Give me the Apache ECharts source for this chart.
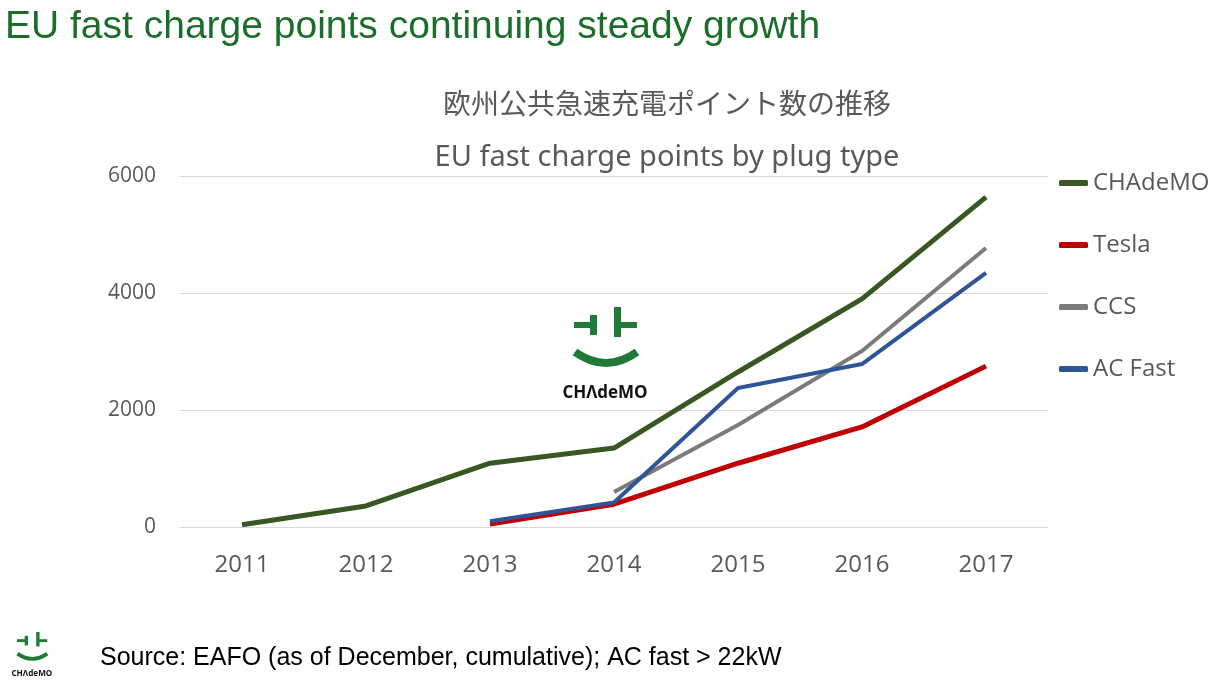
<!DOCTYPE html>
<html>
<head>
<meta charset="utf-8">
<script src="https://cdn.jsdelivr.net/npm/echarts@6/dist/echarts.min.js"></script>
<style>
  html, body { margin: 0; padding: 0; background: #fff; }
  #chart { width: 1227px; height: 686px; }
</style>
</head>
<body>
<div id="chart"></div>
<script>
// 年份（X轴）
var years = ["2011", "2012", "2013", "2014", "2015", "2016", "2017"];
// 各插头类型的累计数量
var chademo = [40, 360, 1090, 1350, 2650, 3900, 5640];
var tesla = [null, null, 50, 390, 1090, 1710, 2750];
var ccs = [null, null, null, 600, 1745, 3010, 4770];
var acFast = [null, null, 100, 420, 2375, 2785, 4345];
var yTicks = [0, 2000, 4000, 6000];

var logoGreen = "#1f7a36";

// CHAdeMO 标志（局部坐标，用 group 缩放）
function logo(x, y, s) {
  return {
    type: "group",
    x: x,
    y: y,
    scaleX: s,
    scaleY: s,
    children: [
      { type: "rect", shape: { x: 0, y: 15, width: 17, height: 6 }, style: { fill: logoGreen } },
      { type: "rect", shape: { x: 16, y: 8, width: 7, height: 20 }, style: { fill: logoGreen } },
      { type: "rect", shape: { x: 40, y: 0, width: 7, height: 30 }, style: { fill: logoGreen } },
      { type: "rect", shape: { x: 46, y: 15, width: 17, height: 6 }, style: { fill: logoGreen } },
      {
        type: "bezierCurve",
        shape: { x1: 1, y1: 45, cpx1: 32, cpy1: 67, x2: 63, y2: 45 },
        style: { stroke: logoGreen, lineWidth: 8, fill: null },
      },
      {
        type: "text",
        x: 31,
        y: 86,
        style: {
          text: "CHΛdeMO",
          fill: "#111",
          font: "bold 17px 'Open Sans', sans-serif",
          align: "center",
          verticalAlign: "middle",
        },
      },
    ],
  };
}

var myChart = echarts.init(document.getElementById("chart"));
var option = {
  animation: false,
  backgroundColor: "#fff",
  legend: {
    orient: "vertical",
    left: 1059,
    top: 171,
    padding: 0,
    itemGap: 38,
    itemWidth: 29,
    itemHeight: 6,
    icon: "roundRect",
    textStyle: {
      color: "#595959",
      fontSize: 24,
      lineHeight: 24,
      fontFamily: "'Open Sans', sans-serif",
    },
    data: ["CHAdeMO", "Tesla", "CCS", "AC Fast"],
  },
  grid: {
    left: 180,
    right: 179,
    top: 176,
    bottom: 159,
    containLabel: false,
  },
  xAxis: {
    type: "category",
    data: years,
    boundaryGap: true,
    axisLine: { show: false },
    axisTick: { show: false },
    axisLabel: {
      color: "#595959",
      fontSize: 24,
      margin: 26,
      fontFamily: "'Open Sans', sans-serif",
    },
  },
  yAxis: {
    type: "value",
    min: yTicks[0],
    max: yTicks[yTicks.length - 1],
    interval: 2000,
    axisLine: { show: false },
    axisTick: { show: false },
    axisLabel: {
      color: "#595959",
      fontSize: 21,
      margin: 24,
      fontFamily: "'Open Sans', sans-serif",
      formatter: function (v) {
        return String(v);
      },
    },
    splitLine: { lineStyle: { color: "#d9d9d9", width: 1 } },
  },
  series: [
    {
      name: "CHAdeMO",
      type: "line",
      data: chademo,
      showSymbol: false,
      symbol: "none",
      color: "#385723",
      lineStyle: { width: 5, color: "#385723" },
    },
    {
      name: "Tesla",
      type: "line",
      data: tesla,
      showSymbol: false,
      symbol: "none",
      color: "#c00000",
      lineStyle: { width: 5, color: "#c00000" },
    },
    {
      name: "CCS",
      type: "line",
      data: ccs,
      showSymbol: false,
      symbol: "none",
      color: "#7b7b7b",
      lineStyle: { width: 4, color: "#7b7b7b" },
    },
    {
      name: "AC Fast",
      type: "line",
      data: acFast,
      showSymbol: false,
      symbol: "none",
      color: "#2f5597",
      lineStyle: { width: 4, color: "#2f5597" },
    },
  ],
  graphic: [
    {
      type: "text",
      x: 5,
      y: 27,
      style: {
        text: "EU fast charge points continuing steady growth",
        fill: "#1b6d2b",
        font: "39px 'Liberation Sans', Arial, sans-serif",
        verticalAlign: "middle",
      },
    },
    {
      type: "text",
      x: 667,
      y: 103,
      style: {
        text: "欧州公共急速充電ポイント数の推移",
        fill: "#595959",
        font: "28px 'Noto Sans CJK JP', sans-serif",
        align: "center",
        verticalAlign: "middle",
      },
    },
    {
      type: "text",
      x: 667,
      y: 158,
      style: {
        text: "EU fast charge points by plug type",
        fill: "#595959",
        font: "29px 'Noto Sans', sans-serif",
        align: "center",
        verticalAlign: "middle",
      },
    },
    logo(574, 307, 1),
    logo(17, 632, 0.48),
    {
      type: "text",
      x: 100,
      y: 658,
      style: {
        text: "Source: EAFO (as of December, cumulative); AC fast > 22kW",
        fill: "#000",
        font: "25px 'Liberation Sans', Arial, sans-serif",
        verticalAlign: "middle",
      },
    },
  ],
};
option && myChart.setOption(option);
</script>
</body>
</html>
